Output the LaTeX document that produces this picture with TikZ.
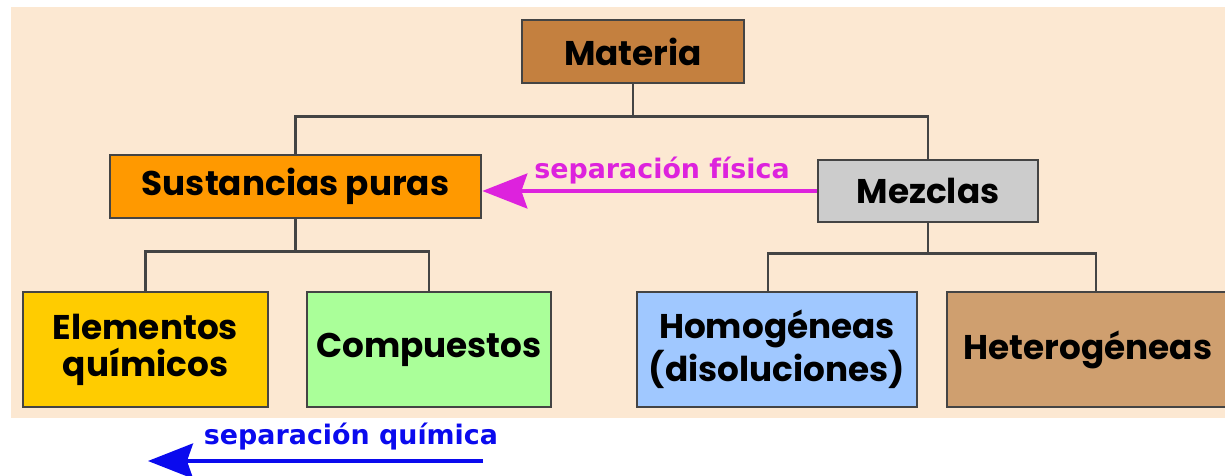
\documentclass[tikz,border=0pt]{standalone}
\usepackage{fontspec}
\newfontfamily\cajafont{Poppins}
\newfontfamily\flechafont{DejaVu Sans}
\usetikzlibrary{arrows.meta}
\definecolor{fondo}{HTML}{FCE8D2}
\definecolor{linea}{HTML}{444444}
\definecolor{cmateria}{HTML}{C4803F}
\definecolor{cpuras}{HTML}{FF9900}
\definecolor{cmezclas}{HTML}{CCCCCC}
\definecolor{celementos}{HTML}{FFCC00}
\definecolor{ccompuestos}{HTML}{AAFF99}
\definecolor{chomog}{HTML}{A0C8FF}
\definecolor{cheterog}{HTML}{CF9F6F}
\definecolor{cfisica}{HTML}{DD22DD}
\definecolor{cquimica}{HTML}{0A0AEE}
\begin{document}
\begin{tikzpicture}[x=0.02cm,y=-0.02cm]
\tikzstyle{caja}=[draw=linea,line width=1.6pt,rectangle,inner sep=0pt,align=center,
  font=\cajafont\bfseries\fontsize{19.5}{21}\selectfont]
\tikzstyle{rama}=[draw=linea,line width=1.6pt]
\tikzstyle{etiqueta}=[font=\flechafont\bfseries\fontsize{15.3}{17}\selectfont]
\useasboundingbox (0,0) rectangle (1225,476);
\fill[fondo] (11,7) rectangle (1225,418);
% cajas
\node[caja,fill=cmateria,minimum width=4.44cm,minimum height=1.26cm](materia) at (633,51.5) {Materia};
\node[caja,fill=cpuras,minimum width=7.42cm,minimum height=1.26cm](puras) at (295.5,186.5) {Sustancias puras};
\node[caja,fill=cmezclas,minimum width=4.4cm,minimum height=1.24cm](mezclas) at (928,191) {Mezclas};
\node[caja,fill=celementos,minimum width=4.9cm,minimum height=2.3cm](elementos) at (145.5,349.5) {Elementos\\químicos};
\node[caja,fill=ccompuestos,minimum width=4.88cm,minimum height=2.3cm](compuestos) at (429,349.5) {Compuestos};
\node[caja,fill=chomog,minimum width=5.6cm,minimum height=2.3cm](homog) at (777,349.5) {Homogéneas\\(disoluciones)};
\node[caja,fill=cheterog,minimum width=5.64cm,minimum height=2.3cm](heterog) at (1088,349.5) {Heterogéneas};
% ramas
\draw[rama] (materia.south) -- ++(0,32) -| (puras.north);
\draw[rama] (materia.south) -- ++(0,32) -| (mezclas.north);
\draw[rama] (puras.south) -- ++(0,32) -| (elementos.north);
\draw[rama] (puras.south) -- ++(0,32) -| (compuestos.north);
\draw[rama] (mezclas.south) -- ++(0,30) -| ([xshift=-0.18cm]homog.north);
\draw[rama] (mezclas.south) -- ++(0,30) -| ([xshift=0.16cm]heterog.north);
% separaciones
\draw[cfisica,line width=1.9pt,-{Stealth[length=0.9cm,width=0.7cm,inset=0.12cm]}] (mezclas.west) -- (mezclas.west -| puras.east);
\node[etiqueta,text=cfisica](fisica) at (662,171) {separación física};
\coordinate (qinicio) at (483,461);
\coordinate (qfin) at (148,461);
\draw[cquimica,line width=1.9pt,-{Stealth[length=0.9cm,width=0.7cm,inset=0.12cm]}] (qinicio) -- (qfin);
\node[etiqueta,text=cquimica](quimica) at (351,437) {separación química};
\end{tikzpicture}
\end{document}
